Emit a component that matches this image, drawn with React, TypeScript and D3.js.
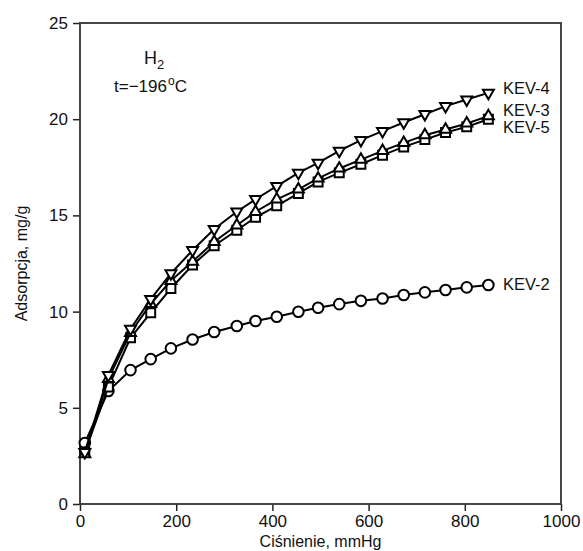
import React, { useEffect, useRef } from 'react'
import * as d3 from 'd3'

// pressure, mmHg (same for all samples)
const pressure = [10, 59, 105, 147, 189, 234, 279, 326, 365, 409, 454, 495, 539, 584, 629, 673, 717, 760, 804, 849]

const kev2 = [3.17, 5.87, 6.96, 7.53, 8.09, 8.55, 8.94, 9.25, 9.51, 9.73, 9.99, 10.2, 10.39, 10.56, 10.68, 10.86, 11.0, 11.12, 11.26, 11.38]
const kev3 = [2.6, 6.5, 8.9, 10.4, 11.6, 12.6, 13.63, 14.49, 15.19, 15.83, 16.35, 16.92, 17.44, 17.9, 18.35, 18.77, 19.17, 19.46, 19.78, 20.16]
const kev4 = [2.7, 6.7, 9.1, 10.65, 11.98, 13.19, 14.29, 15.19, 15.84, 16.52, 17.21, 17.73, 18.35, 18.91, 19.38, 19.83, 20.26, 20.68, 21.02, 21.37]
const kev5 = [2.7, 6.08, 8.64, 9.94, 11.2, 12.42, 13.42, 14.23, 14.9, 15.5, 16.14, 16.74, 17.21, 17.66, 18.13, 18.56, 18.94, 19.31, 19.6, 20.0]

const xTicks = [0, 200, 400, 600, 800, 1000]
const yTicks = [0, 5, 10, 15, 20, 25]

const series = [
  { name: 'KEV-2', values: kev2, marker: 'circle', labelY: 11.4 },
  { name: 'KEV-5', values: kev5, marker: 'square', labelY: 19.6 },
  { name: 'KEV-3', values: kev3, marker: 'up', labelY: 20.45 },
  { name: 'KEV-4', values: kev4, marker: 'down', labelY: 21.6 },
]

function App() {
  const svgRef = useRef<SVGSVGElement>(null)

  useEffect(() => {
    document.body.style.margin = '0'
    const width = 583
    const height = 551
    const left = 80, right = 561, top = 23, bottom = 504
    const font = '"Liberation Sans", Arial, sans-serif'

    const svg = d3.select(svgRef.current)
      .attr('width', width)
      .attr('height', height)
      .style('display', 'block')
      .style('font-family', font)
    svg.selectAll('*').remove()

    //scales
    const xScale = d3.scaleLinear().domain([0, 1000]).range([left, right])
    const yScale = d3.scaleLinear().domain([0, 25]).range([bottom, top])

    //axes
    const xAxis = svg.append('g')
      .attr('transform', `translate(0,${bottom})`)
      .call(d3.axisBottom(xScale).tickValues(xTicks).tickSize(7).tickPadding(4).tickFormat(d3.format('d')))
    const yAxis = svg.append('g')
      .attr('transform', `translate(${left},0)`)
      .call(d3.axisLeft(yScale).tickValues(yTicks).tickSize(7).tickPadding(5).tickFormat(d3.format('d')))
    ;[xAxis, yAxis].forEach(ax => {
      ax.select('.domain').remove()
      ax.selectAll('line').attr('stroke', '#222').attr('stroke-width', 1.5)
      ax.selectAll('text')
        .attr('fill', '#111')
        .style('font-size', '17px')
        .style('font-family', font)
    })

    //frame
    svg.append('rect')
      .attr('x', left).attr('y', top)
      .attr('width', right - left).attr('height', bottom - top)
      .attr('fill', 'none').attr('stroke', '#333').attr('stroke-width', 1.8)

    //axis titles
    svg.append('text')
      .attr('x', (left + right) / 2).attr('y', 547)
      .attr('text-anchor', 'middle')
      .style('font-size', '16px').attr('fill', '#111')
      .text('Ciśnienie, mmHg')
    svg.append('text')
      .attr('transform', `translate(27,${(top + bottom) / 2}) rotate(-90)`)
      .attr('text-anchor', 'middle')
      .style('font-size', '16px').attr('fill', '#111')
      .text('Adsorpcja, mg/g')

    //annotation
    const h2 = svg.append('text').attr('x', 144).attr('y', 64).style('font-size', '18px').attr('fill', '#111')
    h2.append('tspan').text('H')
    h2.append('tspan').attr('dy', 5).style('font-size', '13px').text('2')
    const t = svg.append('text').attr('x', 114).attr('y', 92).style('font-size', '17px').attr('fill', '#111')
    t.append('tspan').text('t=−196')
    t.append('tspan').attr('dy', -7).attr('dx', 1).style('font-size', '12px').text('o')
    t.append('tspan').attr('dy', 7).text('C')

    const line = d3.line<number>()
      .x((d, i) => xScale(pressure[i]))
      .y(d => yScale(d))

    const tri = d3.symbol().type(d3.symbolTriangle).size(52)
    const sq = d3.symbol().type(d3.symbolSquare).size(80)

    series.forEach(s => {
      const g = svg.append('g')
      g.append('path')
        .datum(s.values)
        .attr('fill', 'none')
        .attr('stroke', '#000')
        .attr('stroke-width', 2)
        .attr('d', line)

      const pts = g.selectAll('.pt')
        .data(s.values)
        .enter()
      if (s.marker === 'circle') {
        pts.append('circle')
          .attr('cx', (d, i) => xScale(pressure[i]))
          .attr('cy', d => yScale(d))
          .attr('r', 5.3)
          .attr('fill', '#fff').attr('stroke', '#000').attr('stroke-width', 2)
      } else {
        pts.append('path')
          .attr('d', s.marker === 'square' ? sq() : tri())
          .attr('transform', (d, i) => `translate(${xScale(pressure[i])},${yScale(d)})${s.marker === 'down' ? ' rotate(180)' : ''}`)
          .attr('fill', '#fff').attr('stroke', '#000').attr('stroke-width', 2)
      }

      svg.append('text')
        .attr('x', 503)
        .attr('y', yScale(s.labelY))
        .attr('dy', '0.35em')
        .style('font-size', '16.5px').attr('fill', '#111')
        .text(s.name)
    })
  }, [])

  return <svg ref={svgRef}></svg>
}

export default App
